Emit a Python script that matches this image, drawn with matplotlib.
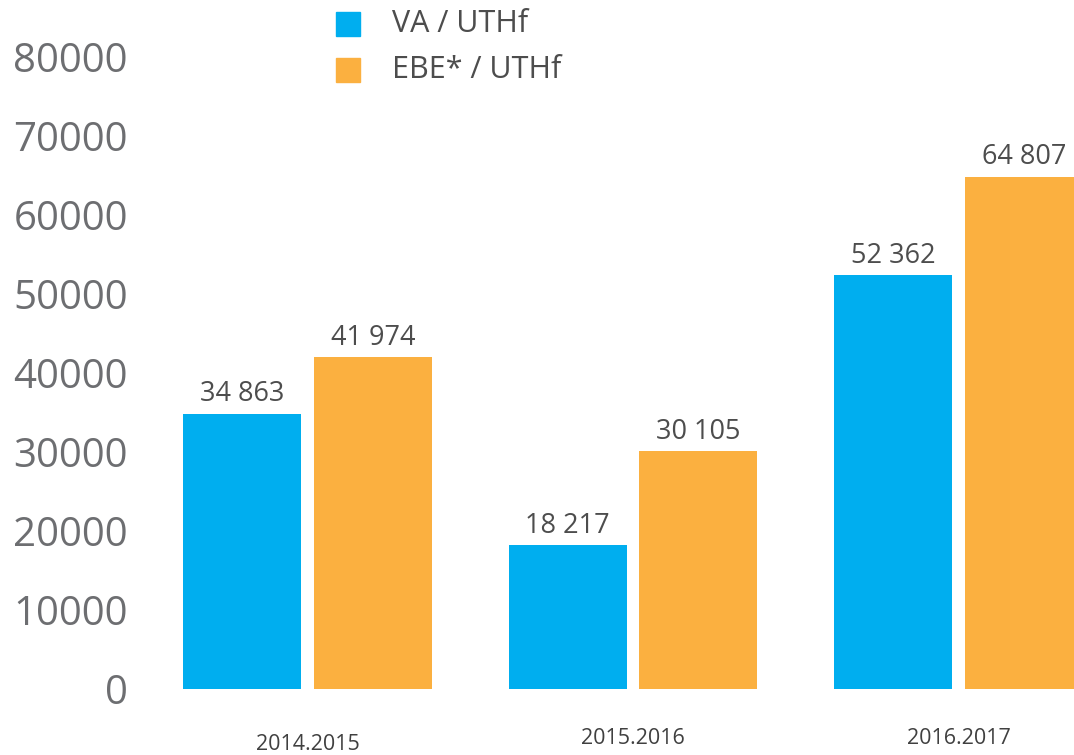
import matplotlib
matplotlib.use("Agg")
import matplotlib.pyplot as plt
import matplotlib.transforms as mtransforms
from matplotlib.patches import Rectangle
import numpy as np

# data
periods = ["2014.2015", "2015.2016", "2016.2017"]
va_uthf = [34863, 18217, 52362]
ebe_uthf = [41974, 30105, 64807]
series_names = ["VA / UTHf", "EBE* / UTHf"]
y_ticks = [0, 10000, 20000, 30000, 40000, 50000, 60000, 70000, 80000]

BLUE = "#00aeef"
ORANGE = "#fbb040"
TICK_GREY = "#6d6e71"
TEXT_DARK = "#4d4d4d"
FONT = "Open Sans"

W, H = 1074, 755
fig = plt.figure(figsize=(W / 100, H / 100), dpi=100)
fig.patch.set_facecolor("white")

# axes box in pixels: left 150, bottom at y=689, top at y=57
ax = fig.add_axes([150 / W, (H - 689) / H, (W - 150) / W, (689 - 57) / H])
ax.set_facecolor("white")

x = np.arange(len(periods))
width = 0.3625
offset = 0.201

bars_va = ax.bar(x - offset, va_uthf, width, color=BLUE, label=series_names[0])
bars_ebe = ax.bar(x + offset, ebe_uthf, width, color=ORANGE, label=series_names[1])


def fmt(v):
    return f"{v:,}".replace(",", " ")


for bars in (bars_va, bars_ebe):
    for b in bars:
        ax.annotate(fmt(int(b.get_height())),
                    (b.get_x() + b.get_width() / 2, b.get_height()),
                    xytext=(0, 4), textcoords="offset points",
                    ha="center", va="bottom", fontsize=19.5,
                    color=TEXT_DARK, family=FONT, clip_on=False)

ax.set_xlim(-0.484, 2.355)
ax.set_ylim(0, 80000)
ax.set_yticks(y_ticks)
ax.set_yticklabels([str(t) for t in y_ticks])
ax.set_xticks(x)
ax.set_xticklabels(periods)

ax.tick_params(axis="y", length=0, pad=16, labelsize=29, labelcolor=TICK_GREY)
ax.tick_params(axis="x", length=0, pad=28, labelsize=15.5, labelcolor="#404040")
for lab in ax.get_yticklabels() + ax.get_xticklabels():
    lab.set_family(FONT)

# first period label sits a little lower in the original
first = ax.get_xticklabels()[0]
first.set_transform(first.get_transform()
                    + mtransforms.ScaledTranslation(0, -6 / 100, fig.dpi_scale_trans))

for s in ax.spines.values():
    s.set_visible(False)

# legend drawn by hand at top
for i, (name, col) in enumerate(zip(series_names, [BLUE, ORANGE])):
    cy = 24 + i * 46
    fig.patches.append(Rectangle((336 / W, (H - cy - 12) / H), 24 / W, 24 / H,
                                 transform=fig.transFigure, color=col))
    fig.text(392 / W, (H - cy) / H, name, fontsize=22, color=TEXT_DARK,
             family=FONT, va="center", ha="left")

fig.savefig("out.png", dpi=100, facecolor="white")
